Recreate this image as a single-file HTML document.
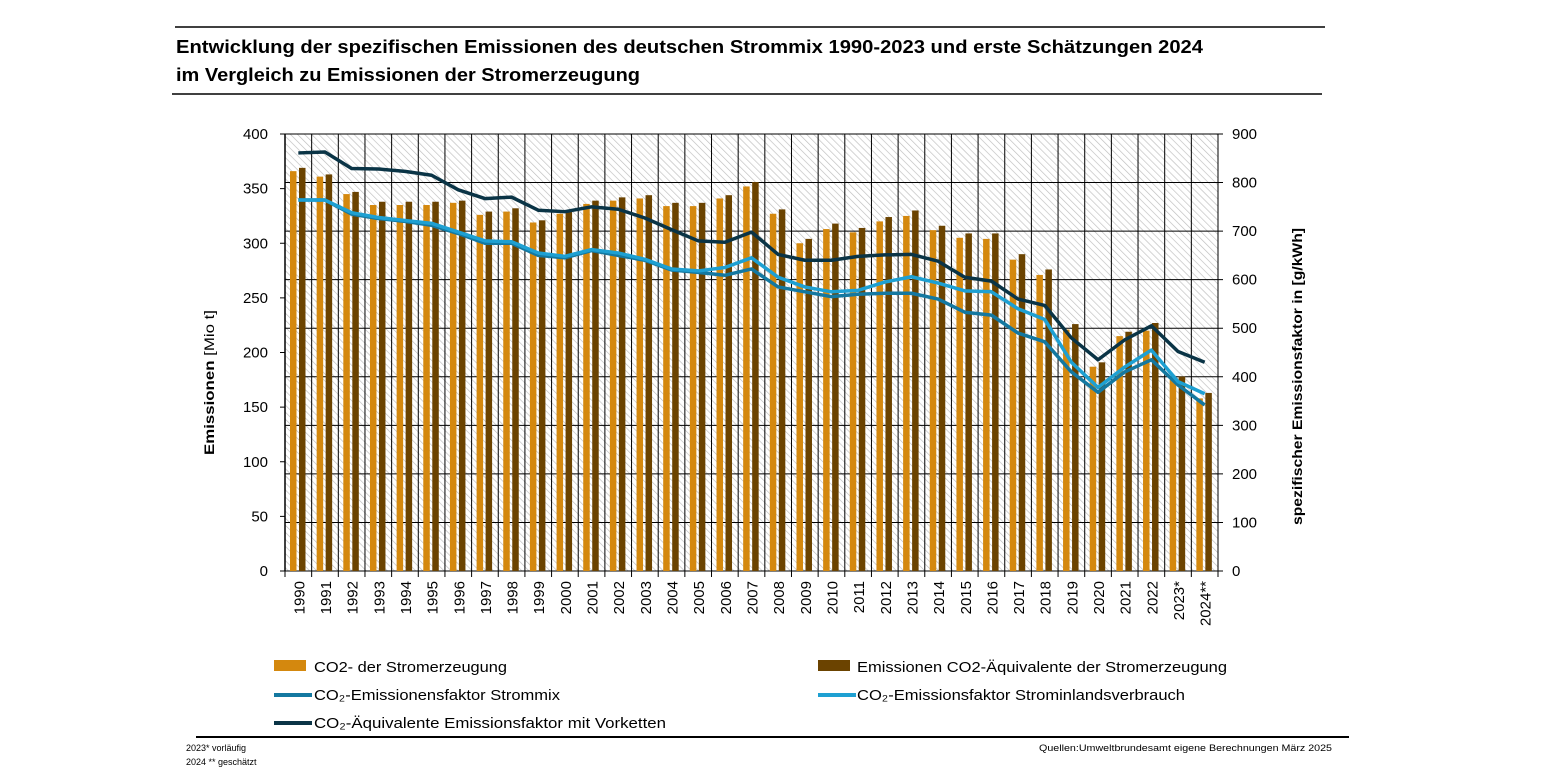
<!DOCTYPE html>
<html><head><meta charset="utf-8"><style>
body{margin:0;background:#fff;width:1545px;height:775px;overflow:hidden;font-family:"Liberation Sans",sans-serif}
</style></head><body>
<svg width="1545" height="775" xmlns="http://www.w3.org/2000/svg" font-family="Liberation Sans, sans-serif">
<defs>
<pattern id="hatch" width="5" height="5" patternUnits="userSpaceOnUse" patternTransform="rotate(-45)">
<rect width="5" height="5" fill="#fff"/><line x1="0" y1="0" x2="0" y2="5" stroke="#bdbdbd" stroke-width="1.3"/>
</pattern>
</defs>
<line x1="175" y1="27" x2="1325" y2="27" stroke="#000" stroke-width="1.5"/>
<text x="176" y="53" font-size="18" font-weight="bold" textLength="1027" lengthAdjust="spacingAndGlyphs">Entwicklung der spezifischen Emissionen des deutschen Strommix 1990-2023 und erste Schätzungen 2024</text>
<text x="176" y="81" font-size="18" font-weight="bold" textLength="464" lengthAdjust="spacingAndGlyphs">im Vergleich zu Emissionen der Stromerzeugung</text>
<line x1="172" y1="94" x2="1322" y2="94" stroke="#000" stroke-width="1.5"/>
<rect x="285" y="134" width="933" height="437" fill="url(#hatch)"/>
<g id="grid"></g><g id="bars"></g><g id="lines"></g><g id="axes"></g>
<text transform="translate(214,455) rotate(-90)" font-size="14" textLength="145" lengthAdjust="spacingAndGlyphs"><tspan font-weight="bold">Emissionen</tspan>  [Mio t]</text>
<text transform="translate(1302,525) rotate(-90)" font-size="14" font-weight="bold" textLength="297" lengthAdjust="spacingAndGlyphs">spezifischer Emissionsfaktor  in [g/kWh]</text>
<g font-size="15">
<rect x="274" y="660" width="32" height="11" fill="#D4880E"/>
<text x="314" y="672" textLength="193" lengthAdjust="spacingAndGlyphs">CO2- der Stromerzeugung</text>
<rect x="818" y="660" width="32" height="11" fill="#6B4300"/>
<text x="857" y="672" textLength="370" lengthAdjust="spacingAndGlyphs">Emissionen CO2-Äquivalente der Stromerzeugung</text>
<line x1="274" y1="695" x2="312" y2="695" stroke="#1478A0" stroke-width="4"/>
<text x="314" y="700" textLength="246" lengthAdjust="spacingAndGlyphs">CO₂-Emissionensfaktor Strommix</text>
<line x1="818" y1="695" x2="856" y2="695" stroke="#1EA0D2" stroke-width="4"/>
<text x="857" y="700" textLength="328" lengthAdjust="spacingAndGlyphs">CO₂-Emissionsfaktor Strominlandsverbrauch</text>
<line x1="274" y1="723" x2="312" y2="723" stroke="#0A3446" stroke-width="4"/>
<text x="314" y="728" textLength="352" lengthAdjust="spacingAndGlyphs">CO₂-Äquivalente Emissionsfaktor mit Vorketten</text>
</g>
<line x1="196" y1="737" x2="1349" y2="737" stroke="#000" stroke-width="2"/>
<text x="186" y="751" font-size="9">2023* vorläufig</text>
<text x="186" y="765" font-size="9">2024 ** geschätzt</text>
<text x="1039" y="751" font-size="9" textLength="293" lengthAdjust="spacingAndGlyphs">Quellen:Umweltbrundesamt  eigene Berechnungen März 2025</text>
</svg>
<script>
const categories=["1990","1991","1992","1993","1994","1995","1996","1997","1998","1999","2000","2001","2002","2003","2004","2005","2006","2007","2008","2009","2010","2011","2012","2013","2014","2015","2016","2017","2018","2019","2020","2021","2022","2023*","2024**"];
const co2=[366,361,345,335,335,335,337,326,329,319,327,336,339,341,334,334,341,352,327,300,313,310,320,325,312,305,304,285,271,221,187,215,220,175,158];
const co2eq=[369,363,347,338,338,338,339,329,332,321,329,339,342,344,337,337,344,356,331,304,318,314,324,330,316,309,309,290,276,226,191,219,227,178,163];
const strommix=[764,764,735,726,720,712,695,675,675,650,645,660,650,640,620,615,609,622,585,575,565,570,572,572,560,533,527,490,472,410,368,410,435,383,342];
const inland=[764,764,738,728,722,716,698,680,678,655,648,662,655,642,622,618,625,645,605,585,575,578,595,606,593,577,575,540,518,430,378,420,455,390,365];
const vorketten=[861,863,829,828,823,815,785,767,770,743,740,750,745,727,703,680,677,698,652,640,640,648,651,652,638,605,597,560,547,480,435,476,505,452,430];
const leftTicks=[0,50,100,150,200,250,300,350,400];
const rightTicks=[0,100,200,300,400,500,600,700,800,900];
const X0=285,X1=1218,Y0=571,Y1=134,N=categories.length,W=(X1-X0)/N;
const yL=v=>Y0-(v/400)*(Y0-Y1), yR=v=>Y0-(v/900)*(Y0-Y1), xc=i=>X0+W*(i+0.5);
const NS="http://www.w3.org/2000/svg";
function mk(t,a,p){const e=document.createElementNS(NS,t);for(const k in a)e.setAttribute(k,a[k]);p.appendChild(e);return e;}
const grid=document.getElementById('grid'),bars=document.getElementById('bars'),lines=document.getElementById('lines'),axes=document.getElementById('axes');
for(let i=0;i<=N;i++){const g=mk('line',{x1:X0+W*i,x2:X0+W*i,y1:Y1,y2:Y0+6,stroke:'#000','stroke-width':1},grid);

}
rightTicks.forEach(v=>{const g=mk('line',{x1:X0,x2:X1+5,y1:yR(v),y2:yR(v),stroke:'#000','stroke-width':1},grid);


const t=mk('text',{x:X1+14,y:yR(v)+5,'font-size':15},axes);t.textContent=v;

});
leftTicks.forEach(v=>{const l=mk('line',{x1:X0-5,x2:X0,y1:yL(v),y2:yL(v),stroke:'#000'},axes);


const t=mk('text',{x:X0-17,y:yL(v)+5,'font-size':15,'text-anchor':'end'},axes);t.textContent=v;

});
const ax=mk('line',{x1:X0,x2:X0,y1:Y1,y2:Y0,stroke:'#000','stroke-width':1.5},axes);


categories.forEach((c,i)=>{
const b1=mk('rect',{x:X0+W*i+5,y:yL(co2[i]),width:6.5,height:Y0-yL(co2[i]),fill:'#D4880E'},bars);


const b2=mk('rect',{x:X0+W*i+14,y:yL(co2eq[i]),width:6.5,height:Y0-yL(co2eq[i]),fill:'#6B4300'},bars);


const t=mk('text',{transform:`translate(${xc(i)+6},${581}) rotate(-90)`,'font-size':15,'text-anchor':'end'},axes);t.textContent=c;

});
[[strommix,'#1478A0','line-strommix'],[inland,'#1EA0D2','line-inland'],[vorketten,'#0A3446','line-vorketten']].forEach(([d,col,n])=>{
const p=mk('polyline',{points:d.map((v,i)=>xc(i)+','+yR(v)).join(' '),fill:'none',stroke:col,'stroke-width':3.5,'stroke-linejoin':'round'},lines);

});
</script>
</body></html>
